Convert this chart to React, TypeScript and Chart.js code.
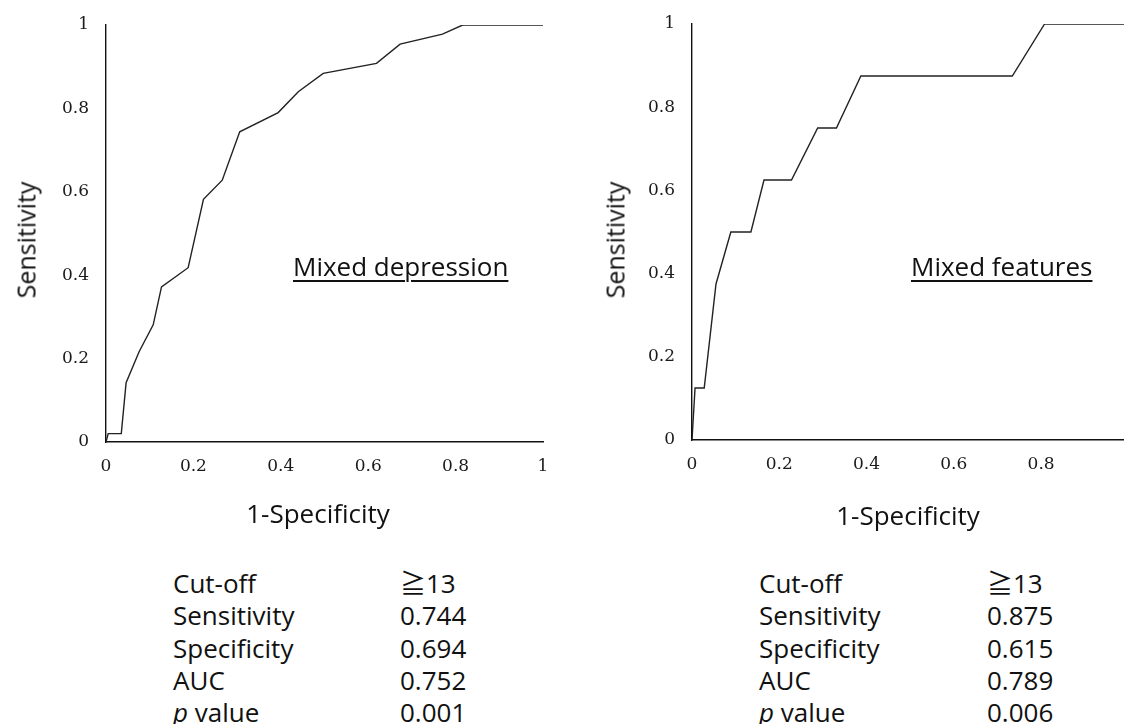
import React, { useEffect, useRef } from "react";
import { Chart, registerables } from "chart.js";

Chart.register(...registerables);

// ---- Data ----
const mdFpr = [0, 0.005, 0.035, 0.046, 0.076, 0.108, 0.127, 0.188, 0.223, 0.266, 0.306, 0.394, 0.44, 0.497, 0.619, 0.673, 0.77, 0.816, 1];
const mdTpr = [0, 0.02, 0.02, 0.142, 0.217, 0.281, 0.372, 0.418, 0.582, 0.628, 0.744, 0.79, 0.84, 0.884, 0.908, 0.954, 0.978, 1, 1];

const mfFpr = [0, 0.007, 0.028, 0.055, 0.089, 0.135, 0.165, 0.228, 0.288, 0.331, 0.387, 0.734, 0.808, 1];
const mfTpr = [0, 0.125, 0.125, 0.375, 0.5, 0.5, 0.625, 0.625, 0.75, 0.75, 0.875, 0.875, 1, 1];

const yTicks = [0, 0.2, 0.4, 0.6, 0.8, 1];
const leftXTicks = [0, 0.2, 0.4, 0.6, 0.8, 1];
const rightXTicks = [0, 0.2, 0.4, 0.6, 0.8];

const rowLabels = ["Cut-off", "Sensitivity", "Specificity", "AUC", "p value"];
const mdValues = ["\u226713", "0.744", "0.694", "0.752", "0.001"];
const mfValues = ["\u226713", "0.875", "0.615", "0.789", "0.006"];

const SERIF = "'DejaVu Serif', serif";
const SANS = "'Open Sans', 'Noto Sans', 'Noto Sans CJK JP', sans-serif";

type RocProps = {
  fpr: number[];
  tpr: number[];
  xMax: number;
  xTicks: number[];
  left: number;
  width: number;
  padLeft: number;
  yAxisWidth: number;
  padTop: number;
  xAxisHeight: number;
  padRight: number;
};

const fmt = (v: number) => String(Math.round(v * 10) / 10);

function RocChart(p: RocProps) {
  const ref = useRef<HTMLCanvasElement | null>(null);
  useEffect(() => {
    if (!ref.current) return;
    const pts = p.fpr.map((x, i) => ({ x, y: p.tpr[i] }));
    const chart = new Chart(ref.current, {
      type: "scatter",
      data: {
        datasets: [
          {
            data: pts,
            showLine: true,
            borderColor: "#222",
            borderWidth: 1.4,
            pointRadius: 0,
            pointHoverRadius: 0,
            fill: false,
            tension: 0,
          },
        ],
      },
      options: {
        animation: false,
        responsive: false,
        maintainAspectRatio: false,
        events: [],
        layout: { padding: { left: p.padLeft, top: p.padTop, right: p.padRight, bottom: 0 } },
        plugins: { legend: { display: false }, tooltip: { enabled: false }, title: { display: false } },
        scales: {
          x: {
            type: "linear",
            min: 0,
            max: p.xMax,
            grid: { display: false, drawTicks: false },
            border: { display: true, color: "#111", width: 1.4 },
            ticks: {
              font: { family: SERIF, size: 17 },
              color: "#1a1a1a",
              padding: 14,
              maxRotation: 0,
              callback: (v: any) => fmt(Number(v)),
            },
            afterBuildTicks: (s: any) => {
              s.ticks = p.xTicks.map((v) => ({ value: v }));
            },
            afterFit: (s: any) => {
              s.height = p.xAxisHeight;
              s.paddingLeft = 0;
              s.paddingRight = 0;
            },
          },
          y: {
            type: "linear",
            min: 0,
            max: 1,
            grid: { display: false, drawTicks: false },
            border: { display: true, color: "#111", width: 1.4 },
            ticks: {
              font: { family: SERIF, size: 17 },
              color: "#1a1a1a",
              padding: 17,
              callback: (v: any) => fmt(Number(v)),
            },
            afterBuildTicks: (s: any) => {
              s.ticks = yTicks.map((v) => ({ value: v }));
            },
            afterFit: (s: any) => {
              s.width = p.yAxisWidth;
              s.paddingTop = 0;
              s.paddingBottom = 0;
            },
          },
        },
      } as any,
    });
    return () => chart.destroy();
  }, []);
  return (
    <canvas
      ref={ref}
      width={p.width}
      height={540}
      style={{ position: "absolute", left: p.left, top: 0, width: p.width, height: 540 }}
    />
  );
}

function Txt(props: { x: number; y: number; size: number; text: string; rotate?: boolean; underline?: boolean; center?: boolean }) {
  const tf = props.rotate
    ? "translate(-50%, -50%) rotate(-90deg)"
    : props.center
    ? "translate(-50%, -50%)"
    : "translate(0, -50%)";
  return (
    <div
      style={{
        position: "absolute",
        left: props.x,
        top: props.y,
        transform: tf,
        fontFamily: SANS,
        fontSize: props.size,
        lineHeight: 1,
        whiteSpace: "nowrap",
        color: "#111",
        textDecoration: props.underline ? "underline" : "none",
        textDecorationThickness: props.underline ? "1.5px" : undefined,
        textUnderlineOffset: props.underline ? "4px" : undefined,
      }}
    >
      {props.text}
    </div>
  );
}

function StatTable(props: { x: number; vx: number; values: string[] }) {
  const cell = (top: number, left: number): React.CSSProperties => ({
    position: "absolute",
    left,
    top,
    transform: "translate(0,-50%)",
    fontFamily: SANS,
    fontSize: 26,
    lineHeight: 1,
    whiteSpace: "nowrap",
    color: "#111",
  });
  return (
    <>
      {rowLabels.map((lab, i) => {
        const y = 583 + i * 32.3;
        return (
          <React.Fragment key={lab}>
            <div style={cell(y, props.x)}>
              {lab === "p value" ? (
                <>
                  <i>p</i> value
                </>
              ) : (
                lab
              )}
            </div>
            <div style={cell(y, props.vx)}>{props.values[i]}</div>
          </React.Fragment>
        );
      })}
    </>
  );
}

export default function App() {
  return (
    <div style={{ position: "absolute", left: 0, top: 0, width: 1124, height: 724, background: "#fff", overflow: "hidden" }}>
      <RocChart
        fpr={mdFpr}
        tpr={mdTpr}
        xMax={1}
        xTicks={leftXTicks}
        left={0}
        width={560}
        padLeft={40}
        yAxisWidth={66}
        padTop={25}
        xAxisHeight={98}
        padRight={17}
      />
      <RocChart
        fpr={mfFpr}
        tpr={mfTpr}
        xMax={0.99}
        xTicks={rightXTicks}
        left={600}
        width={524}
        padLeft={40}
        yAxisWidth={52}
        padTop={24}
        xAxisHeight={100}
        padRight={0}
      />
      <Txt x={26} y={240} size={25} text="Sensitivity" rotate />
      <Txt x={615} y={240} size={25} text="Sensitivity" rotate />
      <Txt x={318} y={513} size={26} text="1-Specificity" center />
      <Txt x={908} y={515} size={26} text="1-Specificity" center />
      <Txt x={293} y={266} size={26} text="Mixed depression" underline />
      <Txt x={911} y={266} size={26} text="Mixed features" underline />
      <StatTable x={173} vx={400} values={mdValues} />
      <StatTable x={759} vx={987} values={mfValues} />
    </div>
  );
}
